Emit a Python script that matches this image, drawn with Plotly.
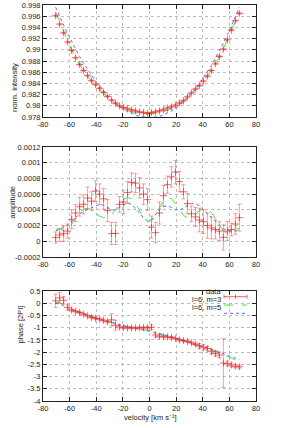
import plotly.graph_objects as go

# ---------------- data ----------------
velocity = [-70.5, -67.5, -64.5, -61.5, -58.5, -55.5, -52.5, -49.5, -46.5, -43.5,
            -40.5, -37.5, -34.5, -31.5, -28.5, -25.5, -22.5, -19.5, -16.5, -13.5,
            -10.5, -7.5, -4.5, -1.5, 1.5, 4.5, 7.5, 10.5, 13.5, 16.5,
            19.5, 22.5, 25.5, 28.5, 31.5, 34.5, 37.5, 40.5, 43.5, 46.5,
            49.5, 52.5, 55.5, 58.5, 61.5, 64.5, 67.5]

intensity = [0.99608, 0.99458, 0.99302, 0.99139, 0.98989, 0.98857, 0.98737, 0.98629, 0.98539, 0.98449,
             0.98377, 0.98311, 0.98239, 0.98167, 0.98101, 0.98047, 0.97999, 0.97968, 0.97944, 0.97926,
             0.97908, 0.97890, 0.97878, 0.97866, 0.97878, 0.97890, 0.97910, 0.97930, 0.97960, 0.97980,
             0.98010, 0.98050, 0.98090, 0.98160, 0.98230, 0.98300, 0.98360, 0.98440, 0.98530, 0.98630,
             0.98750, 0.98880, 0.99010, 0.99180, 0.99350, 0.99520, 0.99650]
intensity_err = [0.00015] * 47

intensity_m3 = [0.9967, 0.9950, 0.9933, 0.9916, 0.9900, 0.9886, 0.9873, 0.9862, 0.9852, 0.9844,
                0.9836, 0.9829, 0.9822, 0.9815, 0.9809, 0.9803, 0.9798, 0.9794, 0.9791, 0.9789,
                0.9787, 0.9786, 0.9785, 0.9785, 0.9785, 0.9786, 0.9787, 0.9789, 0.9792, 0.9795,
                0.9799, 0.9804, 0.9809, 0.9815, 0.9822, 0.9829, 0.9837, 0.9845, 0.9854, 0.9864,
                0.9875, 0.9888, 0.9902, 0.9918, 0.9935, 0.9952, 0.9967]
intensity_m5 = [0.9976, 0.9959, 0.9944, 0.9929, 0.9915, 0.9901, 0.9888, 0.9876, 0.9865, 0.9854,
                0.9844, 0.9835, 0.9826, 0.9818, 0.9811, 0.9805, 0.9799, 0.9794, 0.9790, 0.9786,
                0.9783, 0.9781, 0.9780, 0.9779, 0.9779, 0.9780, 0.9781, 0.9784, 0.9787, 0.9791,
                0.9795, 0.9801, 0.9807, 0.9814, 0.9822, 0.9830, 0.9840, 0.9850, 0.9861, 0.9872,
                0.9885, 0.9898, 0.9912, 0.9927, 0.9942, 0.9959, 0.9976]

amplitude = [0.000047, 0.00008, 0.00010, 0.00013, 0.00028, 0.00036, 0.00044, 0.00047, 0.00055, 0.00051,
             0.00064, 0.00060, 0.00054, 0.00039, 0.00010, 0.00010, 0.00047, 0.00050, 0.00062, 0.00075,
             0.00074, 0.00068, 0.00060, 0.00053, 0.00018, 0.00011, 0.00036, 0.00058, 0.00072, 0.00082,
             0.00088, 0.00076, 0.00063, 0.00048, 0.00035, 0.00031, 0.00027, 0.00025, 0.00020, 0.00017,
             0.00015, 0.00013, 0.00005, 0.00013, 0.00015, 0.00022, 0.00030]
amplitude_err = [0.00007, 0.00008, 0.00010, 0.00009, 0.00012, 0.00011, 0.00012, 0.00012, 0.00014, 0.00012,
                 0.00013, 0.00013, 0.00013, 0.00014, 0.00014, 0.00014, 0.00010, 0.00015, 0.00014, 0.00012,
                 0.00012, 0.00013, 0.00013, 0.00014, 0.00014, 0.00013, 0.00014, 0.00013, 0.00011, 0.00013,
                 0.00015, 0.00013, 0.00009, 0.00013, 0.00010, 0.00012, 0.00015, 0.00015, 0.00016, 0.00014,
                 0.00012, 0.00012, 0.00016, 0.00012, 0.00008, 0.00013, 0.00017]
amplitude_m3 = [0.00015, 0.00016, 0.00013, 0.00015, 0.00022, 0.00030, 0.00037, 0.00041, 0.00042, 0.00040,
                0.00036, 0.00032, 0.00030, 0.00030, 0.00034, 0.00040, 0.00048, 0.00053, 0.00056, 0.00054,
                0.00048, 0.00040, 0.00031, 0.00025, 0.00026, 0.00033, 0.00043, 0.00052, 0.00056, 0.00054,
                0.00048, 0.00040, 0.00033, 0.00030, 0.00030, 0.00034, 0.00039, 0.00041, 0.00041, 0.00037,
                0.00029, 0.00020, 0.00013, 0.00010, 0.00012, 0.00016, 0.00016]
amplitude_m5 = [0.00013, 0.00015, 0.00018, 0.00021, 0.00026, 0.00031, 0.00035, 0.00038, 0.00040, 0.00042,
                0.00045, 0.00047, 0.00046, 0.00043, 0.00040, 0.00040, 0.00043, 0.00047, 0.00049, 0.00047,
                0.00042, 0.00036, 0.00030, 0.00026, 0.00028, 0.00034, 0.00040, 0.00044, 0.00045, 0.00043,
                0.00040, 0.00040, 0.00042, 0.00046, 0.00048, 0.00048, 0.00045, 0.00040, 0.00035, 0.00030,
                0.00025, 0.00020, 0.00016, 0.00014, 0.00013, 0.00013, 0.00014]

phase = [0.10, 0.22, 0.12, -0.17, -0.28, -0.33, -0.38, -0.45, -0.52, -0.58,
         -0.62, -0.65, -0.70, -0.76, -0.68, -0.90, -0.97, -1.00, -1.01, -1.01,
         -1.01, -1.00, -1.00, -1.00, -0.98, -1.30, -1.35, -1.37, -1.38, -1.40,
         -1.45, -1.50, -1.53, -1.57, -1.62, -1.68, -1.75, -1.80, -1.85, -1.98,
         -2.05, -2.12, -2.45, -2.47, -2.53, -2.58, -2.60]
phase_err = [0.27, 0.22, 0.15, 0.10, 0.05, 0.04, 0.04, 0.04, 0.04, 0.04,
             0.05, 0.04, 0.05, 0.05, 0.25, 0.20, 0.05, 0.04, 0.04, 0.04,
             0.04, 0.04, 0.04, 0.05, 0.10, 0.08, 0.05, 0.04, 0.04, 0.04,
             0.04, 0.04, 0.04, 0.04, 0.04, 0.04, 0.10, 0.10, 0.08, 0.10,
             0.12, 0.12, 1.00, 0.10, 0.08, 0.06, 0.06]
phase_m3 = [0.05, 0.02, -0.05, -0.15, -0.25, -0.31, -0.37, -0.44, -0.50, -0.55,
            -0.60, -0.65, -0.70, -0.75, -0.80, -0.84, -0.88, -0.92, -0.95, -0.98,
            -1.00, -1.03, -1.07, -1.11, -1.15, -1.20, -1.25, -1.29, -1.33, -1.37,
            -1.42, -1.47, -1.52, -1.57, -1.62, -1.67, -1.72, -1.78, -1.85, -1.92,
            -2.00, -2.05, -2.10, -2.18, -2.25, -2.33, -2.40]
phase_m5 = [0.00, -0.03, -0.10, -0.18, -0.26, -0.32, -0.38, -0.44, -0.50, -0.55,
            -0.60, -0.65, -0.70, -0.75, -0.80, -0.84, -0.88, -0.92, -0.96, -0.99,
            -1.02, -1.05, -1.08, -1.12, -1.16, -1.20, -1.25, -1.29, -1.33, -1.37,
            -1.41, -1.46, -1.51, -1.56, -1.61, -1.66, -1.71, -1.77, -1.83, -1.89,
            -1.95, -2.01, -2.07, -2.13, -2.19, -2.25, -2.31]

x_ticks = [-80, -60, -40, -20, 0, 20, 40, 60, 80]
x_ticklabels = ["-80", "-60", "-40", "-20", "0", "20", "40", "60", "80"]
int_ticks = [0.978, 0.98, 0.982, 0.984, 0.986, 0.988, 0.99, 0.992, 0.994, 0.996, 0.998]
int_ticklabels = ["0.978", "0.98", "0.982", "0.984", "0.986", "0.988", "0.99", "0.992", "0.994", "0.996", "0.998"]
amp_ticks = [-0.0002, 0, 0.0002, 0.0004, 0.0006, 0.0008, 0.001, 0.0012]
amp_ticklabels = ["-0.0002", "0", "0.0002", "0.0004", "0.0006", "0.0008", "0.001", "0.0012"]
ph_ticks = [-4, -3.5, -3, -2.5, -2, -1.5, -1, -0.5, 0, 0.5]
ph_ticklabels = ["-4", "-3.5", "-3", "-2.5", "-2", "-1.5", "-1", "-0.5", "0", "0.5"]

legend_labels = ["data", "l=6, m=3", "l=6, m=5"]

# ---------------- style ----------------
FONT = "Liberation Sans, Arial, sans-serif"
FS = 7.5
RED = "rgba(255,30,30,0.7)"
RED_ERR = "rgba(255,60,60,0.5)"
GREEN = "rgb(70,230,70)"
BLUE = "rgb(100,100,255)"

fig = go.Figure()

panels = [
    ("x", "y", intensity, intensity_err, intensity_m3, intensity_m5),
    ("x2", "y2", amplitude, amplitude_err, amplitude_m3, amplitude_m5),
    ("x3", "y3", phase, phase_err, phase_m3, phase_m5),
]
for xa, ya, d, e, m3, m5 in panels:
    fig.add_trace(go.Scatter(x=velocity, y=m3, xaxis=xa, yaxis=ya, mode="lines",
                             line=dict(color=GREEN, width=1, dash="dash"), showlegend=False))
    fig.add_trace(go.Scatter(x=velocity, y=m5, xaxis=xa, yaxis=ya, mode="lines",
                             line=dict(color=BLUE, width=1, dash="dot"), showlegend=False))
    fig.add_trace(go.Scatter(x=velocity, y=d, xaxis=xa, yaxis=ya, mode="markers",
                             marker=dict(symbol="cross-thin", size=5, line=dict(color=RED, width=1)),
                             error_y=dict(type="data", array=e, visible=True, color=RED_ERR,
                                          thickness=1, width=2),
                             showlegend=False))

# domains (pixel based on 300x428 with margins l=43 r=44 t=5 b=27)
H = 396.0
def dom(top_px, bot_px):
    return [(401 - bot_px) / H, (401 - top_px) / H]

axis_common = dict(showline=True, linecolor="#222", linewidth=1, mirror="allticks",
                   ticks="inside", ticklen=4, tickcolor="#222", automargin=False,
                   showgrid=True, gridcolor="#bdbdbd", griddash="dot", gridwidth=1,
                   zeroline=False, tickfont=dict(family=FONT, size=FS, color="#222"))

fig.update_layout(
    template="none",
    width=300, height=428,
    margin=dict(l=43, r=44, t=5, b=27, pad=0),
    paper_bgcolor="white", plot_bgcolor="white",
    font=dict(family=FONT, size=FS, color="#222"),
    showlegend=False,
    hovermode=False,
    xaxis=dict(domain=[0, 1], anchor="y", range=[-80, 80], tickvals=x_ticks, ticktext=x_ticklabels, **axis_common),
    xaxis2=dict(domain=[0, 1], anchor="y2", range=[-80, 80], tickvals=x_ticks, ticktext=x_ticklabels, **axis_common),
    xaxis3=dict(domain=[0, 1], anchor="y3", range=[-80, 80], tickvals=x_ticks, ticktext=x_ticklabels, **axis_common),
    yaxis=dict(domain=dom(5, 117), anchor="x", range=[0.978, 0.998], tickvals=int_ticks, ticktext=int_ticklabels, **axis_common),
    yaxis2=dict(domain=dom(147, 257), anchor="x2", range=[-0.0002, 0.0012], tickvals=amp_ticks, ticktext=amp_ticklabels, **axis_common),
    yaxis3=dict(domain=dom(291, 401), anchor="x3", range=[-4, 0.5], tickvals=ph_ticks, ticktext=ph_ticklabels, **axis_common),
)

def px_x(px):
    return (px - 43) / 213.0

def px_y(py):
    return (401 - py) / H

# axis titles
fig.add_annotation(text="norm. intensity", xref="paper", yref="paper", x=px_x(8), y=px_y(61),
                   textangle=-90, showarrow=False, font=dict(family=FONT, size=FS))
fig.add_annotation(text="amplitude", xref="paper", yref="paper", x=px_x(5), y=px_y(202),
                   textangle=-90, showarrow=False, font=dict(family=FONT, size=FS))
fig.add_annotation(text="phase [2PI]", xref="paper", yref="paper", x=px_x(13), y=px_y(346),
                   textangle=-90, showarrow=False, font=dict(family=FONT, size=FS))
fig.add_annotation(text="velocity [km s\u207b\u00b9]", xref="paper", yref="paper", x=px_x(150), y=px_y(423),
                   showarrow=False, borderpad=0, font=dict(family=FONT, size=FS))

# custom gnuplot-style legend (text left of sample)
leg_y = [296.7, 305.0, 313.3]
leg_styles = [("solid", RED), ("dash", GREEN), ("dot", BLUE)]
for lab, py, (dash, col) in zip(legend_labels, leg_y, leg_styles):
    fig.add_annotation(text=lab, xref="paper", yref="paper", x=px_x(221.5), y=px_y(py),
                       xanchor="right", showarrow=False, borderpad=0, font=dict(family=FONT, size=FS))
    fig.add_shape(type="line", xref="paper", yref="paper", x0=px_x(224), x1=px_x(247),
                  y0=px_y(py), y1=px_y(py), line=dict(color=col, width=1, dash=dash))
# error bar caps + tick for the data sample
for cx in (224, 235.5, 247):
    fig.add_shape(type="line", xref="paper", yref="paper", x0=px_x(cx), x1=px_x(cx),
                  y0=px_y(leg_y[0] - 2), y1=px_y(leg_y[0] + 2), line=dict(color=RED, width=1))

fig.write_html("out.html", config={"displayModeBar": False, "staticPlot": True},
               post_script="document.body.style.margin='0';")
